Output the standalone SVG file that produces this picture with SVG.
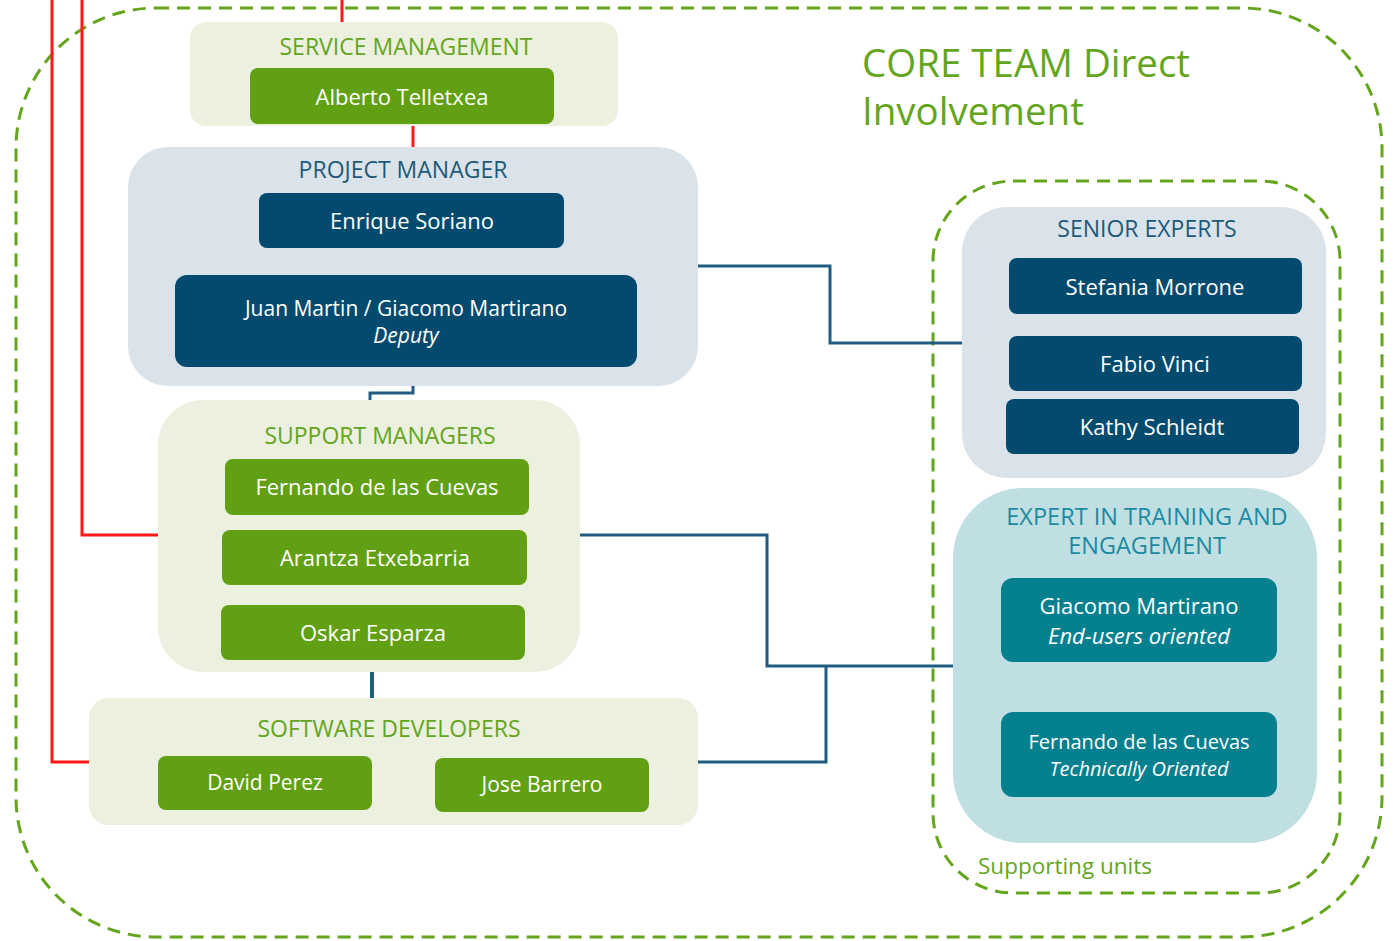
<svg xmlns="http://www.w3.org/2000/svg" width="1395" height="941" viewBox="0 0 1395 941">
<style>
text { font-family: "Open Sans", "Noto Sans", "Liberation Sans", sans-serif; text-anchor: middle; }
.grpG { fill: #EBF0DF; }
.grpB { fill: #DAE3EA; }
.grpT { fill: #C0DFE3; }
.boxG { fill: #62A013; }
.boxB { fill: #034B6E; }
.boxT { fill: #04808F; }
.lblG { fill: #64A51D; font-size: 23px; }
.lblB { fill: #1E5A78; font-size: 23px; }
.lblT { fill: #1C8AA0; font-size: 23.5px; }
.nm { fill: #FFFFFF; font-size: 22px; }
.it { font-style: italic; }
.dash { fill: none; stroke: #64A51D; stroke-width: 3; stroke-dasharray: 13 8; }
.red { fill: none; stroke: #FF1A1A; stroke-width: 3; }
.blue { fill: none; stroke: #1F5C7F; stroke-width: 3; }
</style>

<g id="core-team">
  <rect class="dash" x="16" y="8" width="1366" height="929" rx="140" ry="140"/>
  <text x="862" y="77" style="text-anchor:start; fill:#64A51D; font-size:38.5px;">CORE TEAM Direct</text>
  <text x="862" y="125" style="text-anchor:start; fill:#64A51D; font-size:38.5px;">Involvement</text>
</g>

<g id="supporting-units">
  <rect class="dash" x="933" y="181" width="407" height="712" rx="80" ry="80"/>
  <text x="978" y="874" style="text-anchor:start; fill:#64A51D; font-size:22.5px;">Supporting units</text>
</g>

<g id="connectors">
  <path class="red" d="M52 0 V762 H90"/>
  <path class="red" d="M82 0 V535 H158"/>
  <path class="red" d="M342 0 V22"/>
  <path class="red" d="M413 124 V147"/>
  <path class="blue" d="M412 248 V262 H407 V275"/>
  <path class="blue" d="M413 386 V393 H370 V400"/>
  <path class="blue" d="M698 266 H830 V343 H962"/>
  <path class="blue" d="M580 535 H767 V666 H953"/>
  <path class="blue" d="M698 762 H826 V666"/>
  <path class="blue" style="stroke-width:4" d="M372 672 V698"/>
</g>

<g id="service-management">
  <rect class="grpG" x="190" y="22" width="428" height="104" rx="16"/>
  <text class="lblG" x="406" y="55">SERVICE MANAGEMENT</text>
  <g id="alberto">
    <rect class="boxG" x="250" y="68" width="304" height="56" rx="8"/>
    <text class="nm" x="402" y="105">Alberto Telletxea</text>
  </g>
</g>

<g id="project-manager">
  <rect class="grpB" x="128" y="147" width="570" height="239" rx="40"/>
  <text class="lblB" x="403" y="178">PROJECT MANAGER</text>
  <g id="enrique">
    <rect class="boxB" x="259" y="193" width="305" height="55" rx="8"/>
    <text class="nm" x="412" y="229">Enrique Soriano</text>
  </g>
  <g id="juan">
    <rect class="boxB" x="175" y="275" width="462" height="92" rx="12"/>
    <text class="nm" x="406" y="316" style="font-size:21px">Juan Martin / Giacomo Martirano</text>
    <text class="nm it" x="406" y="343" style="font-size:21px">Deputy</text>
  </g>
</g>

<g id="support-managers">
  <rect class="grpG" x="158" y="400" width="422" height="272" rx="45"/>
  <text class="lblG" x="380" y="444">SUPPORT MANAGERS</text>
  <g id="fernando-sm">
    <rect class="boxG" x="225" y="459" width="304" height="56" rx="8"/>
    <text class="nm" x="377" y="495">Fernando de las Cuevas</text>
  </g>
  <g id="arantza">
    <rect class="boxG" x="222" y="530" width="305" height="55" rx="8"/>
    <text class="nm" x="375" y="566">Arantza Etxebarria</text>
  </g>
  <g id="oskar">
    <rect class="boxG" x="221" y="605" width="304" height="55" rx="8"/>
    <text class="nm" x="373" y="641">Oskar Esparza</text>
  </g>
</g>

<g id="software-developers">
  <rect class="grpG" x="89" y="698" width="609" height="127" rx="20"/>
  <text class="lblG" x="389" y="737">SOFTWARE DEVELOPERS</text>
  <g id="david">
    <rect class="boxG" x="158" y="756" width="214" height="54" rx="8"/>
    <text class="nm" x="265" y="790" style="font-size:21px">David Perez</text>
  </g>
  <g id="jose">
    <rect class="boxG" x="435" y="758" width="214" height="54" rx="8"/>
    <text class="nm" x="542" y="792" style="font-size:21px">Jose Barrero</text>
  </g>
</g>

<g id="senior-experts">
  <rect class="grpB" x="962" y="207" width="364" height="271" rx="45"/>
  <text class="lblB" x="1147" y="237">SENIOR EXPERTS</text>
  <g id="stefania">
    <rect class="boxB" x="1009" y="258" width="293" height="56" rx="8"/>
    <text class="nm" x="1155" y="295">Stefania Morrone</text>
  </g>
  <g id="fabio">
    <rect class="boxB" x="1009" y="336" width="293" height="55" rx="8"/>
    <text class="nm" x="1155" y="372">Fabio Vinci</text>
  </g>
  <g id="kathy">
    <rect class="boxB" x="1006" y="399" width="293" height="55" rx="8"/>
    <text class="nm" x="1152" y="435">Kathy Schleidt</text>
  </g>
</g>

<g id="expert-training">
  <rect class="grpT" x="953" y="488" width="364" height="355" rx="70"/>
  <text class="lblT" x="1147" y="525">EXPERT IN TRAINING AND</text>
  <text class="lblT" x="1147" y="554">ENGAGEMENT</text>
  <g id="giacomo">
    <rect class="boxT" x="1001" y="578" width="276" height="84" rx="12"/>
    <text class="nm" x="1139" y="614">Giacomo Martirano</text>
    <text class="nm it" x="1139" y="644">End-users oriented</text>
  </g>
  <g id="fernando-et">
    <rect class="boxT" x="1001" y="712" width="276" height="85" rx="12"/>
    <text class="nm" x="1139" y="749" style="font-size:20px">Fernando de las Cuevas</text>
    <text class="nm it" x="1139" y="776" style="font-size:20px">Technically Oriented</text>
  </g>
</g>
</svg>
